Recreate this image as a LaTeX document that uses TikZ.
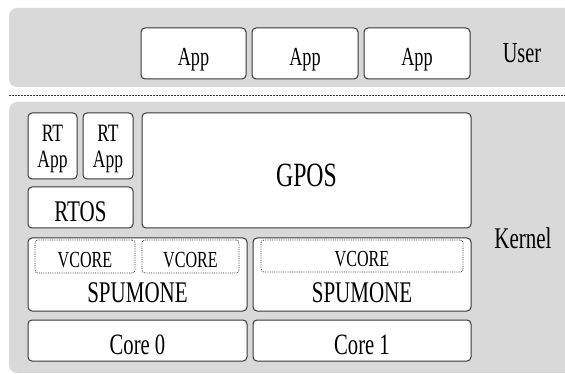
\documentclass[tikz,border=0pt]{standalone}
\usepackage{fontspec}
\setmainfont[FakeStretch=0.7]{Liberation Serif}
\definecolor{bandgray}{RGB}{217,217,217}
\definecolor{edgegray}{RGB}{55,55,55}
\begin{document}
\begin{tikzpicture}[x=1pt,y=-1pt,inner sep=0pt,outer sep=0pt,
layer/.style={fill=bandgray,rounded corners=8pt},
frame/.style={draw=edgegray,fill=white,rectangle,rounded corners=4pt,line width=1pt},
sysbox/.style={frame,font=\fontsize{#1}{#1}\selectfont,text height=#1pt,text depth=2pt},
sysbox/.default=26,
vcbox/.style={draw=edgegray,densely dotted,fill=white,rectangle,rounded corners=3pt,line width=0.8pt,
  font=\fontsize{23}{23}\selectfont,text height=23pt,text depth=2pt},
tag/.style={font=\fontsize{29}{29}\selectfont}]
\useasboundingbox (0,0) rectangle (565,374);
\clip (0,0) rectangle (565,374);
% user and kernel layers
\fill[layer] (9,8) rectangle (580,87);
\fill[layer] (9,102) rectangle (580,373);
\draw[edgegray,dash pattern=on 2pt off 1pt,line width=0.8pt] (9,95) -- (565,95);
% user level
\draw (193.5,53.5) node[sysbox,minimum width=105pt,minimum height=51pt] (app1) {App};
\draw (305,53.5) node[sysbox,minimum width=106pt,minimum height=51pt] (app2) {App};
\draw (417,53.5) node[sysbox,minimum width=106pt,minimum height=51pt] (app3) {App};
\draw (522,53) node[tag] (user) {User};
% kernel level
\draw (52.5,146) node[frame,minimum width=49pt,minimum height=66pt,align=center,font=\fontsize{25}{26}\selectfont] (rtapp1) {\rule{0pt}{23pt}RT\\App};
\draw (108,146) node[frame,minimum width=50pt,minimum height=66pt,align=center,font=\fontsize{25}{26}\selectfont] (rtapp2) {\rule{0pt}{23pt}RT\\App};
\draw (80.5,207.5) node[sysbox=30,minimum width=105pt,minimum height=41pt] (rtos) {RTOS};
\draw (306.5,170.5) node[sysbox=34,minimum width=329pt,minimum height=115pt] (gpos) {GPOS};
\draw (523,238) node[tag,font=\fontsize{30}{30}\selectfont] (kernel) {Kernel};
% hypervisor
\draw (137.5,274.5) node[frame,minimum width=219pt,minimum height=73pt] (spu0) {};
\draw (362,274.5) node[frame,minimum width=218pt,minimum height=73pt] (spu1) {};
\draw (85,256.5) node[vcbox,minimum width=100pt,minimum height=33pt] (vc0a) {VCORE};
\draw (190.5,256.5) node[vcbox,minimum width=97pt,minimum height=33pt] (vc0b) {VCORE};
\draw (362,256) node[vcbox,minimum width=202pt,minimum height=32pt] (vc1) {VCORE};
\draw (spu0.south) ++(0,-18) node[font=\fontsize{30}{30}\selectfont] (spu0txt) {SPUMONE};
\draw (spu1.south) ++(0,-18) node[font=\fontsize{30}{30}\selectfont] (spu1txt) {SPUMONE};
% hardware
\draw (137.5,340.5) node[sysbox=29.5,minimum width=219pt,minimum height=41pt] (core0) {Core 0};
\draw (362,340.5) node[sysbox=29.5,minimum width=218pt,minimum height=41pt] (core1) {Core 1};
\end{tikzpicture}
\end{document}
